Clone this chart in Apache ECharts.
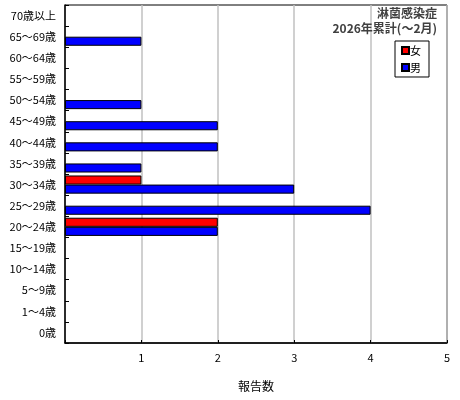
<!DOCTYPE html>
<html><head><meta charset="utf-8">
<script src="https://cdn.jsdelivr.net/npm/echarts@6/dist/echarts.min.js"></script>
<style>html,body{margin:0;padding:0;background:#fff}#c{width:460px;height:400px}</style>
</head><body><div id="c"></div>
<script>
var categories = ['0歳','1〜4歳','5〜9歳','10〜14歳','15〜19歳','20〜24歳','25〜29歳','30〜34歳','35〜39歳','40〜44歳','45〜49歳','50〜54歳','55〜59歳','60〜64歳','65〜69歳','70歳以上'];
var female = [0,0,0,0,0,2,0,1,0,0,0,0,0,0,0,0];
var male   = [0,0,0,0,0,2,4,3,1,2,2,1,0,0,1,0];
var seriesNames = ['女','男'];
var titleLines = ['淋菌感染症','2026年累計(〜2月)'];
var xName = '報告数';

var FONT = '"Noto Sans CJK JP", sans-serif';
var chart = echarts.init(document.getElementById('c'));
function toNull(a){return a.map(function(v){return v===0?null:v;});}
var titleStyle = {fontFamily:FONT,fontSize:12,fontWeight:'bold',color:'#404040'};
chart.setOption({
  animation:false,
  textStyle:{fontFamily:FONT},
  title:[
    {text:titleLines[0], right:23, top:7, padding:0, textStyle:titleStyle},
    {text:titleLines[1], right:23, top:22, padding:0, textStyle:titleStyle}
  ],
  legend:{orient:'vertical', right:31, top:41, data:seriesNames,
    backgroundColor:'#fff', borderColor:'#000', borderWidth:1, borderRadius:0,
    padding:[4,8,4,6], itemGap:6, itemWidth:7, itemHeight:7, icon:'rect',
    textStyle:{fontFamily:FONT,fontSize:11,color:'#000',padding:[0,0,0,-4]}},
  grid:{left:65, right:13, top:5, bottom:57, show:true, borderColor:'#000', borderWidth:1, containLabel:false},
  xAxis:{type:'value', min:0, max:5, interval:1, name:xName, nameLocation:'middle', nameGap:37,
    nameTextStyle:{fontFamily:FONT,fontSize:12,color:'#000'},
    axisLine:{show:true,lineStyle:{color:'#000',width:1.5}},
    axisTick:{show:true,inside:true,length:3,lineStyle:{color:'#000'}},
    axisLabel:{color:'#000',fontSize:11,fontFamily:FONT,margin:9,
      formatter:function(v){return v===0?'':String(v);}},
    splitLine:{show:true,lineStyle:{color:'#c0c0c0',width:1.5}}},
  yAxis:{type:'category', data:categories,
    axisLine:{show:true,lineStyle:{color:'#000',width:1.5}},
    axisTick:{show:true,inside:true,length:4,lineStyle:{color:'#000'}},
    axisLabel:{color:'#000',fontSize:11,fontFamily:FONT,margin:9},
    splitLine:{show:false}},
  series:[
    {name:seriesNames[0], type:'bar', data:toNull(female), barGap:'0%', barCategoryGap:'14%',
      itemStyle:{color:'#ff0000',borderColor:'#000',borderWidth:1}},
    {name:seriesNames[1], type:'bar', data:toNull(male), barGap:'0%', barCategoryGap:'14%',
      itemStyle:{color:'#0000ff',borderColor:'#000',borderWidth:1}}
  ]
});
</script></body></html>
